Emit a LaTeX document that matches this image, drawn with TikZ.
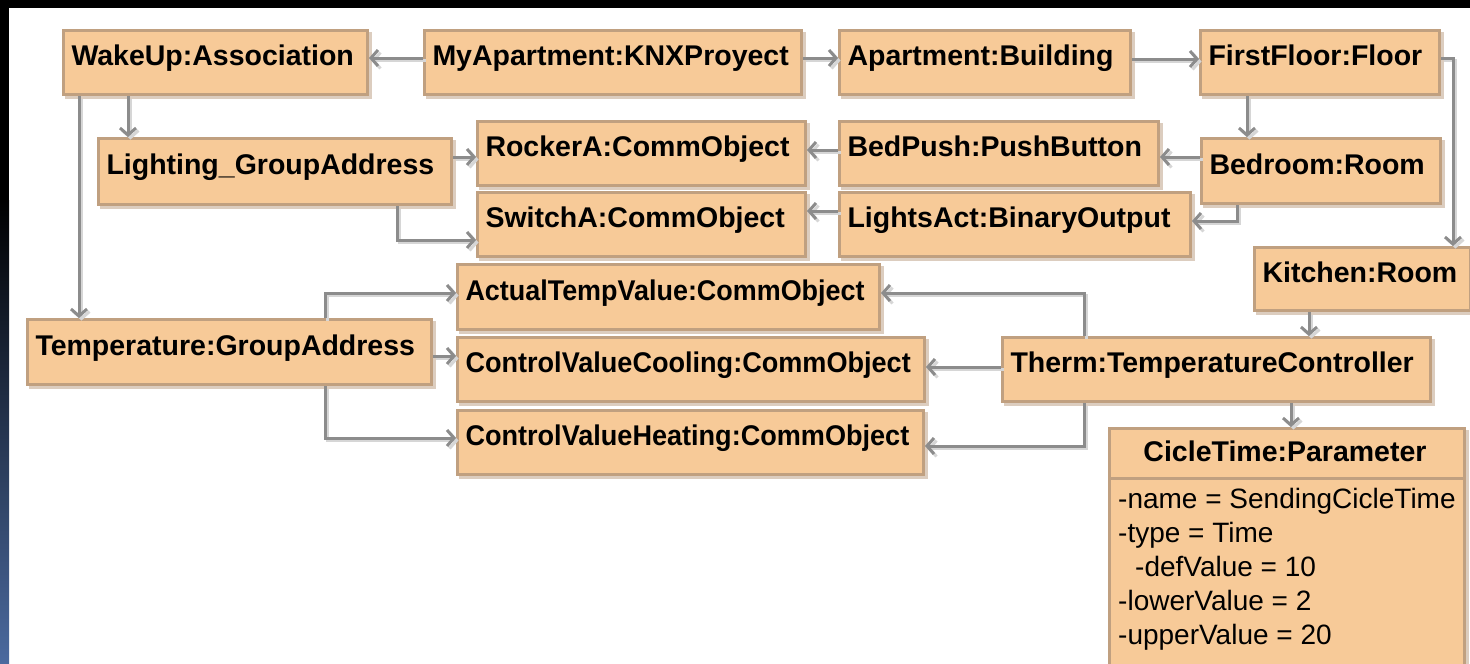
\documentclass[tikz,border=0pt]{standalone}
\usepackage{fontspec}
\setmainfont{Liberation Sans}
\usetikzlibrary{arrows.meta,calc}

\definecolor{objfill}{HTML}{F7CA98}
\definecolor{objline}{HTML}{C0A080}
\definecolor{objshadow}{HTML}{DCCDBF}
\definecolor{wire}{HTML}{8C8C8C}
\definecolor{wireshadow}{HTML}{D6D6D6}
\definecolor{frameblue}{HTML}{4B6A9F}

\tikzset{
  objbox/.style={rectangle, draw=objline, fill=objfill, line width=3pt,
    inner xsep=8pt, inner ysep=0pt, anchor=north west,
    font=\fontsize{28.5}{34}\selectfont\bfseries,
    text height=21pt, text depth=15pt,
    preaction={draw=objshadow, line width=3pt,
      transform canvas={shift={(2.5pt,-2.5pt)}}}},
  conn/.style={draw=wire, line width=3pt,
    -{Straight Barb[length=7pt,width=16pt]},
    preaction={draw=wireshadow, line width=3pt,
      transform canvas={shift={(2.5pt,-2.5pt)}}}},
  attrline/.style={inner sep=0pt, anchor=base west,
    font=\fontsize{28}{33.8}\selectfont},
}

% \umlobj{name}{x1}{y1}{x2}{y2}{label}: object box by its corners
\newcommand\umlobj[6]{%
  \pgfmathsetmacro\objw{#4-#2}%
  \pgfmathsetmacro\objh{#5-#3}%
  \pgfmathsetmacro\objtw{#4-#2-16}%
  \node[objbox, minimum width=\objw pt, minimum height=\objh pt]
    (#1) at (#2,#3) {\makebox[\objtw pt][l]{#6}};}

\begin{document}
\begin{tikzpicture}[x=1pt,y=-1pt]
  \useasboundingbox (0,0) rectangle (1470,664);
  \clip (0,0) rectangle (1470,664);
  % window frame
  \fill[white] (0,0) rectangle (1470,664);
  \fill[black] (0,0) rectangle (1470,8);
  \fill[black] (0,0) rectangle (9,200);
  \shade[top color=black, bottom color=frameblue] (0,200) rectangle (9,664);

  % objects
  \umlobj{wakeup}{62}{29}{366}{93}{WakeUp:Association}
  \umlobj{myapt}{423}{29}{800}{93}{MyApartment:KNXProyect}
  \umlobj{apt}{838}{29}{1129}{93}{Apartment:Building}
  \umlobj{floor}{1199}{29}{1438}{93}{FirstFloor:Floor}
  \umlobj{lighting}{97}{137}{450}{203}{Lighting\_GroupAddress}
  \umlobj{rocker}{476}{120}{804}{184}{RockerA:CommObject}
  \umlobj{bedpush}{838}{120}{1157}{184}{BedPush:PushButton}
  \umlobj{bedroom}{1200}{137}{1439}{202}{Bedroom:Room}
  \umlobj{switch}{476}{191}{804}{255}{SwitchA:CommObject}
  \umlobj{lightsact}{838}{191}{1189}{255}{LightsAct:BinaryOutput}
  \umlobj{kitchen}{1253}{246}{1469}{309}{Kitchen:Room}
  \umlobj{actual}{456}{263}{878}{328}{\scalebox{0.945}[1]{ActualTempValue:CommObject}}
  \umlobj{temp}{26}{318}{430}{383}{Temperature:GroupAddress}
  \umlobj{cooling}{456}{336}{923}{400}{\scalebox{0.95}[1]{ControlValueCooling:CommObject}}
  \umlobj{therm}{1001}{336}{1429}{400}{Therm:TemperatureController}
  \umlobj{heating}{456}{409}{922}{473}{\scalebox{0.95}[1]{ControlValueHeating:CommObject}}

  % parameter object with attribute compartment
  \node[objbox, minimum width=355pt, minimum height=260pt] (cicle) at (1108,427) {};
  \node[anchor=base, inner sep=0pt, font=\fontsize{28.5}{34}\selectfont\bfseries]
    (cicletitle) at (1285,461) {CicleTime:Parameter};
  \draw[objline, line width=3pt] (cicle.west |- 0,478) -- (cicle.east |- 0,478);
  \node[attrline] (attrname)  at (1118,508) {-name = SendingCicleTime};
  \node[attrline] (attrtype)  at (1118,542) {-type = Time};
  \node[attrline] (attrdef)   at (1135,576) {-defValue = 10};
  \node[attrline] (attrlower) at (1118,610) {-lowerValue = 2};
  \node[attrline] (attrupper) at (1118,644) {-upperValue = 20};

  % links
  \draw[conn] (myapt.west |- 0,58) -- (wakeup.east |- 0,58);
  \draw[conn] (myapt.east |- 0,58) -- (apt.west |- 0,58);
  \draw[conn] (apt.east |- 0,59) -- (floor.west |- 0,59);
  \draw[conn] (floor.east |- 0,58) -| (kitchen.north -| 1453,0);
  \draw[conn] (floor.south -| 1247,0) -- (bedroom.north -| 1247,0);
  \draw[conn] (bedroom.west |- 0,157) -- (bedpush.east |- 0,157);
  \draw[conn] (bedroom.south -| 1237,0) |- (lightsact.east |- 0,221);
  \draw[conn] (bedpush.west |- 0,150) -- (rocker.east |- 0,150);
  \draw[conn] (lightsact.west |- 0,211) -- (switch.east |- 0,211);
  \draw[conn] (wakeup.south -| 128,0) -- (lighting.north -| 128,0);
  \draw[conn] (wakeup.south -| 79,0) -- (temp.north -| 79,0);
  \draw[conn] (lighting.east |- 0,157) -- (rocker.west |- 0,157);
  \draw[conn] (lighting.south -| 397,0) |- (switch.west |- 0,240);
  \draw[conn] (temp.north -| 325,0) |- (actual.west |- 0,293);
  \draw[conn] (temp.east |- 0,356) -- (cooling.west |- 0,356);
  \draw[conn] (temp.south -| 325,0) |- (heating.west |- 0,438);
  \draw[conn] (therm.north -| 1084,0) |- (actual.east |- 0,293);
  \draw[conn] (therm.west |- 0,367) -- (cooling.east |- 0,367);
  \draw[conn] (therm.south -| 1084,0) |- (heating.east |- 0,446);
  \draw[conn] (kitchen.south -| 1309,0) -- (therm.north -| 1309,0);
  \draw[conn] (therm.south -| 1291,0) -- (cicle.north -| 1291,0);
\end{tikzpicture}
\end{document}
